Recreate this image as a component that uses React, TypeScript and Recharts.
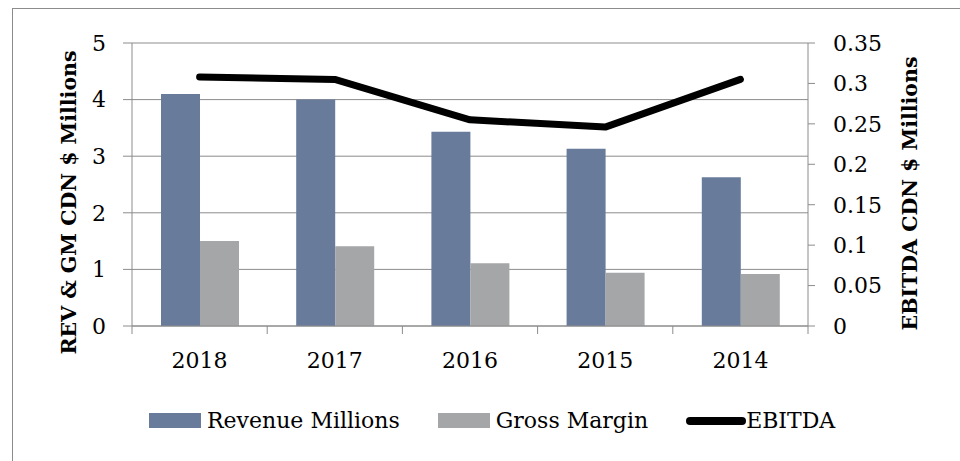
import {
  ComposedChart,
  Bar,
  Line,
  XAxis,
  YAxis,
  CartesianGrid,
  Legend,
  Label,
} from "recharts";

const years = ["2018", "2017", "2016", "2015", "2014"];
const revenue = [4.1, 4.0, 3.43, 3.13, 2.63];
const grossMargin = [1.5, 1.41, 1.11, 0.94, 0.92];
const ebitda = [0.308, 0.305, 0.255, 0.246, 0.305];
const leftTicks = [0, 1, 2, 3, 4, 5];
const rightTicks = [0, 0.05, 0.1, 0.15, 0.2, 0.25, 0.3, 0.35];
const seriesOrder = ["Revenue Millions", "Gross Margin", "EBITDA"];

const BLUE = "#687b9b";
const GRAY = "#a5a6a8";
const AXIS = "#8c8c8c";
const FONT = "'DejaVu Serif', serif";

const data = years.map((year, i) => ({
  year,
  revenue: revenue[i],
  gm: grossMargin[i],
  ebitda: ebitda[i],
}));

const X_TICK = 8;
const X_MARGIN = 18;

// tick marks sit between the categories, like the original
function YearTick(props: any) {
  const { x, y, payload, index, visibleTicksCount } = props;
  const half = payload.offset || 0;
  const axisY = y - X_TICK - X_MARGIN;
  const last = index === visibleTicksCount - 1;
  return (
    <g>
      <line x1={x - half} x2={x - half} y1={axisY} y2={axisY + X_TICK} stroke={AXIS} />
      {last && (
        <line x1={x + half} x2={x + half} y1={axisY} y2={axisY + X_TICK} stroke={AXIS} />
      )}
      <text x={x} y={y} dy="0.71em" textAnchor="middle" fontFamily={FONT} fontSize={22} fill="#000">
        {payload.value}
      </text>
    </g>
  );
}

function axisTitle(text: string, dx: number, dy: number) {
  return (props: any) => {
    const vb = props.viewBox;
    const cx = vb.x + vb.width / 2 + dx;
    const cy = vb.y + vb.height / 2 + dy;
    return (
      <text
        x={cx}
        y={cy}
        transform={`rotate(-90, ${cx}, ${cy})`}
        textAnchor="middle"
        dominantBaseline="central"
        fontFamily={FONT}
        fontWeight="bold"
        fontSize={20.5}
        fill="#000"
      >
        {text}
      </text>
    );
  };
}

function LegendBox(props: any) {
  const items = [...(props.payload || [])].sort(
    (a: any, b: any) => seriesOrder.indexOf(a.value) - seriesOrder.indexOf(b.value)
  );
  return (
    <div style={{ display: "flex", alignItems: "center", fontFamily: FONT, fontSize: 22, color: "#000" }}>
      {items.map((it: any) => (
        <div key={it.value} style={{ display: "flex", alignItems: "center", marginRight: 38 }}>
          {it.type === "line" ? (
            <span style={{ width: 60, height: 8, borderRadius: 4, background: it.color, display: "inline-block" }} />
          ) : (
            <span style={{ width: 52, height: 15, background: it.color, display: "inline-block", marginRight: 6 }} />
          )}
          <span>{it.value}</span>
        </div>
      ))}
    </div>
  );
}

export default function App() {
  return (
    <div style={{ position: "absolute", left: 0, top: 0, width: 960, height: 461, overflow: "hidden", background: "#fff" }}>
      <div
        style={{
          position: "absolute",
          left: 12,
          top: 8,
          width: 1000,
          height: 500,
          border: `1px solid ${AXIS}`,
        }}
      />
      <ComposedChart
        width={960}
        height={461}
        data={data}
        margin={{ top: 43, right: 0, left: 0, bottom: 0 }}
        barCategoryGap={29}
        barGap={0}
      >
        <CartesianGrid yAxisId="left" vertical={false} stroke={AXIS} />
        <XAxis
          dataKey="year"
          height={135}
          axisLine={{ stroke: AXIS }}
          tickLine={false}
          tickSize={X_TICK}
          tickMargin={X_MARGIN}
          tick={<YearTick />}
          interval={0}
        />
        <YAxis
          yAxisId="left"
          domain={[0, 5]}
          ticks={leftTicks}
          width={132}
          tickSize={9}
          tickMargin={17}
          axisLine={{ stroke: AXIS }}
          tickLine={{ stroke: AXIS }}
          tick={{ fontFamily: FONT, fontSize: 22, fill: "#000" }}
        >
          <Label content={axisTitle("REV & GM CDN $ Millions", 3, 18)} />
        </YAxis>
        <YAxis
          yAxisId="right"
          orientation="right"
          domain={[0, 0.35]}
          ticks={rightTicks}
          width={152}
          tickSize={7}
          tickMargin={18}
          axisLine={{ stroke: AXIS }}
          tickLine={{ stroke: AXIS }}
          tick={{ fontFamily: FONT, fontSize: 22, fill: "#000" }}
        >
          <Label content={axisTitle("EBITDA CDN  $ Millions", 26, 9)} />
        </YAxis>
        <Bar yAxisId="left" dataKey="revenue" name="Revenue Millions" fill={BLUE} isAnimationActive={false} />
        <Bar yAxisId="left" dataKey="gm" name="Gross Margin" fill={GRAY} isAnimationActive={false} />
        <Line
          yAxisId="right"
          dataKey="ebitda"
          name="EBITDA"
          type="linear"
          stroke="#000"
          strokeWidth={7}
          strokeLinecap="round"
          strokeLinejoin="round"
          dot={false}
          isAnimationActive={false}
        />
        <Legend
          layout="horizontal"
          verticalAlign="middle"
          content={<LegendBox />}
          wrapperStyle={{ left: 149, top: 408, width: 760 }}
        />
      </ComposedChart>
    </div>
  );
}
